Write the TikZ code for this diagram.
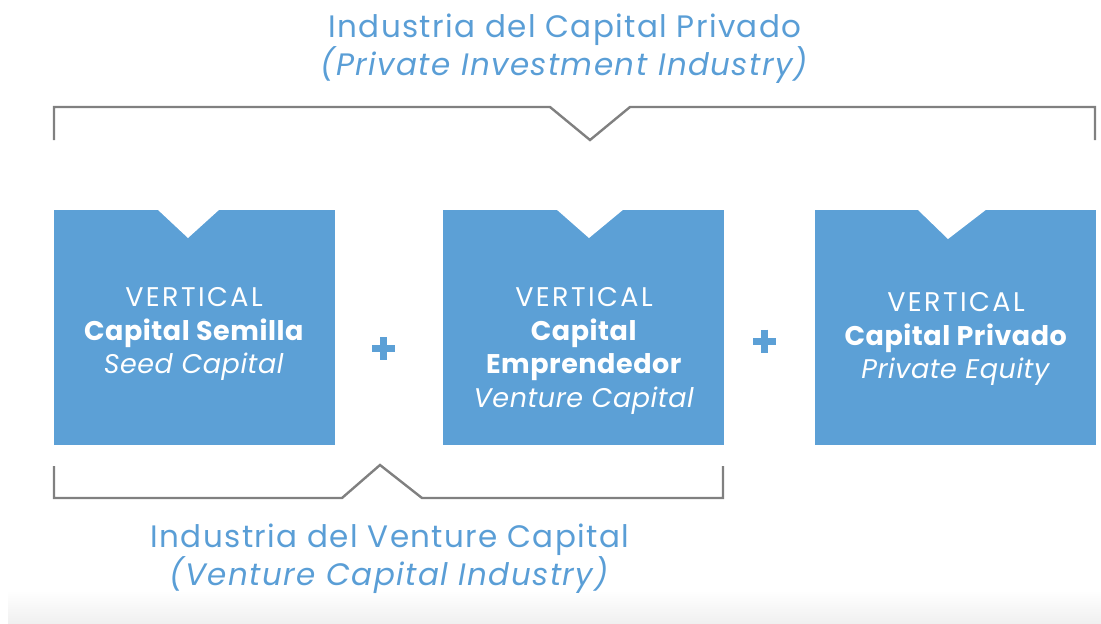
\documentclass[tikz,border=0pt]{standalone}
\usepackage{fontspec}
\setmainfont{Poppins}
\newfontfamily\titlefont{Poppins}[LetterSpace=4.5]
\newfontfamily\boxfont{Poppins}[LetterSpace=2]
\newfontfamily\vertfont{Poppins}[LetterSpace=9]
\definecolor{boxblue}{RGB}{92,160,214}
\definecolor{titleblue}{RGB}{90,158,214}
\definecolor{bracketgray}{RGB}{128,128,128}
\begin{document}
\begin{tikzpicture}[x=1pt, y=-1pt, line join=miter,
  vbox/.style={rectangle, fill=boxblue, draw=none, minimum width=281pt, minimum height=235pt, inner sep=0pt},
  vtext/.style={text=white, align=center, font=\boxfont\fontsize{27}{33.5}\selectfont, inner sep=0pt},
  title/.style={text=titleblue, align=center, font=\titlefont\fontsize{31}{35}\selectfont, inner sep=0pt},
  notch/.style={fill=white, draw=none},
  brace/.style={draw=bracketgray, line width=2.4pt},
  plus/.style={draw=boxblue, line width=7pt}]%
\useasboundingbox (0,0) rectangle (1101,624);
\shade[top color=white, bottom color=black!6] (8,590) rectangle (1101,624);
\begin{scope}%boxes
\node[vbox] (semilla) at (194.5,327.5) {};
\node[vbox] (emprende) at (583,327.5) {};
\node[vbox] (privado) at (955.5,327.5) {};
\fill[notch] (157,209) -- (188,238) -- (220,209) -- cycle;
\fill[notch] (556,209) -- (589,238) -- (624,209) -- cycle;
\fill[notch] (917,209) -- (948,239) -- (987,209) -- cycle;
\node[vtext] (semillaT) at (194,334) {{\vertfont VERTICAL}\\\textbf{Capital Semilla}\\\textit{Seed Capital}};
\node[vtext] (emprendeT) at (584,351) {{\vertfont VERTICAL}\\\textbf{Capital}\\\textbf{Emprendedor}\\\textit{Venture Capital}};
\node[vtext] (privadoT) at (956,339) {{\vertfont VERTICAL}\\\textbf{Capital Privado}\\\textit{Private Equity}};
\end{scope}
\begin{scope}%plus signs
\draw[plus] (383.5,337) -- (383.5,360) (372,348.5) -- (395,348.5);
\draw[plus] (764.5,329.5) -- (764.5,352.5) (753,341) -- (776,341);
\end{scope}
\begin{scope}%brackets and titles
\coordinate (tl) at (54,140);
\coordinate (tr) at (1095,140);
\draw[brace] (tl) -- (54,107) -- (550,107) -- (590,140) -- (630,107) -- (1095,107) -- (tr);
\coordinate (bl) at (54,466);
\coordinate (br) at (723,466);
\draw[brace] (bl) -- (54,498) -- (342,498) -- (380,465) -- (422,498) -- (723,498) -- (br);
\node[title] (capital) at (565,48.5) {Industria del Capital Privado\\\textit{(Private Investment Industry)}};
\node[title, font=\titlefont\fontsize{31}{29}\selectfont] (venture) at (390,559) {Industria del Venture Capital\\\textit{(Venture Capital Industry)}};
\end{scope}
\end{tikzpicture}
\end{document}
